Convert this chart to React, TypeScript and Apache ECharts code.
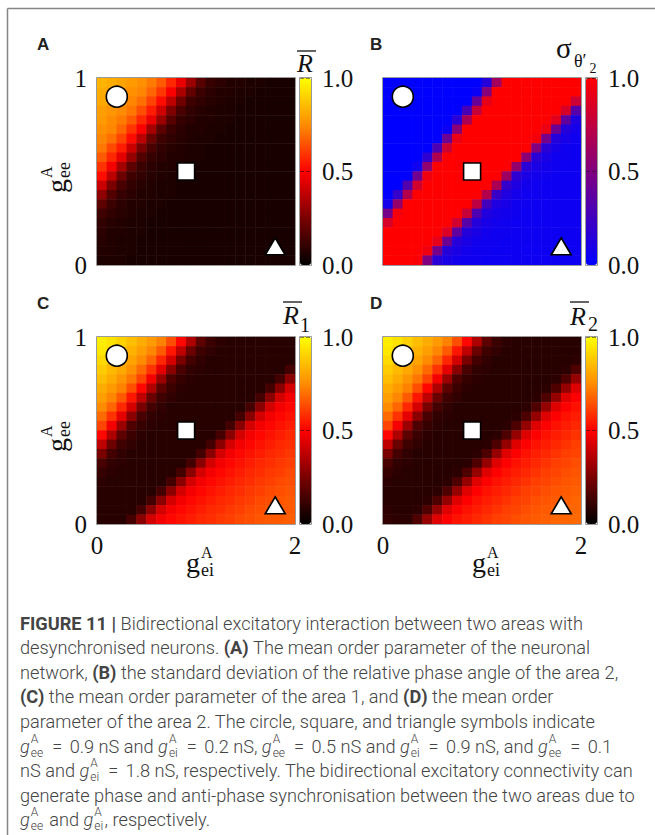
import React, { useEffect, useRef } from 'react';
import * as echarts from 'echarts';

// ---------------- data ----------------
// Each matrix: rows from g_ee = 1 (top) down to g_ee = 0 (bottom),
// columns from g_ei = 0 (left) to g_ei = 2 (right). Values in percent.
const N_GEI = 20;
const N_GEE = 20;
const GEI_MAX = 2;
const GEE_MAX = 1;

const meanR = [
  [84, 82, 80, 78, 76, 72, 66, 57, 46, 31, 18, 11, 9, 7, 7, 6, 6, 5, 5, 5],
  [82, 80, 78, 76, 74, 68, 60, 49, 34, 20, 12, 9, 7, 7, 6, 6, 5, 5, 5, 5],
  [81, 79, 77, 74, 70, 62, 52, 38, 23, 13, 10, 8, 7, 6, 6, 5, 5, 5, 5, 5],
  [79, 77, 75, 71, 64, 55, 41, 26, 15, 10, 8, 7, 6, 6, 5, 5, 5, 5, 5, 5],
  [78, 75, 72, 66, 57, 46, 31, 18, 11, 9, 7, 7, 6, 6, 5, 5, 5, 5, 5, 5],
  [76, 74, 68, 59, 49, 33, 19, 12, 9, 7, 7, 6, 6, 5, 5, 5, 5, 5, 5, 5],
  [74, 70, 62, 52, 37, 22, 13, 10, 8, 7, 6, 6, 5, 5, 5, 5, 5, 5, 5, 5],
  [71, 63, 55, 40, 25, 15, 10, 8, 7, 6, 6, 5, 5, 5, 5, 5, 5, 5, 5, 5],
  [66, 57, 45, 30, 17, 11, 9, 7, 7, 6, 6, 5, 5, 5, 5, 5, 5, 5, 5, 5],
  [59, 48, 33, 19, 12, 9, 7, 7, 6, 6, 5, 5, 5, 5, 5, 5, 5, 5, 5, 5],
  [52, 37, 22, 13, 10, 8, 7, 6, 6, 5, 5, 5, 5, 5, 5, 5, 5, 5, 5, 5],
  [40, 25, 15, 10, 8, 7, 6, 6, 5, 5, 5, 5, 5, 5, 5, 5, 5, 5, 5, 5],
  [29, 17, 11, 9, 7, 7, 6, 6, 5, 5, 5, 5, 5, 5, 5, 5, 5, 5, 5, 5],
  [19, 12, 9, 7, 7, 6, 6, 5, 5, 5, 5, 5, 5, 5, 5, 5, 5, 5, 5, 5],
  [13, 10, 8, 7, 6, 6, 5, 5, 5, 5, 5, 5, 5, 5, 5, 5, 5, 5, 5, 5],
  [10, 8, 7, 6, 6, 5, 5, 5, 5, 5, 5, 5, 5, 5, 5, 5, 5, 5, 5, 5],
  [9, 7, 7, 6, 6, 5, 5, 5, 5, 5, 5, 5, 5, 5, 5, 5, 5, 5, 5, 5],
  [8, 7, 6, 6, 5, 5, 5, 5, 5, 5, 5, 5, 5, 5, 5, 5, 5, 5, 5, 5],
  [7, 7, 6, 6, 5, 5, 5, 5, 5, 5, 5, 5, 5, 5, 5, 5, 5, 5, 5, 5],
  [6, 6, 6, 5, 5, 5, 5, 5, 5, 5, 5, 5, 5, 5, 5, 5, 5, 5, 5, 5],
];

const sigmaTheta2 = [
  [0, 0, 0, 0, 0, 0, 0, 0, 0, 0, 14, 64, 100, 100, 100, 100, 100, 100, 100, 100],
  [0, 0, 0, 0, 0, 0, 0, 0, 0, 3, 52, 100, 100, 100, 100, 100, 100, 100, 100, 100],
  [0, 0, 0, 0, 0, 0, 0, 0, 0, 40, 90, 100, 100, 100, 100, 100, 100, 100, 100, 80],
  [0, 0, 0, 0, 0, 0, 0, 0, 28, 78, 100, 100, 100, 100, 100, 100, 100, 100, 84, 34],
  [0, 0, 0, 0, 0, 0, 0, 16, 66, 100, 100, 100, 100, 100, 100, 100, 100, 88, 38, 12],
  [0, 0, 0, 0, 0, 0, 4, 54, 100, 100, 100, 100, 100, 100, 100, 100, 92, 42, 14, 8],
  [0, 0, 0, 0, 0, 0, 42, 92, 100, 100, 100, 100, 100, 100, 100, 96, 46, 14, 9, 6],
  [0, 0, 0, 0, 0, 30, 80, 100, 100, 100, 100, 100, 100, 100, 100, 50, 16, 9, 6, 5],
  [0, 0, 0, 0, 18, 68, 100, 100, 100, 100, 100, 100, 100, 100, 54, 16, 10, 6, 6, 5],
  [0, 0, 0, 6, 56, 100, 100, 100, 100, 100, 100, 100, 100, 58, 16, 10, 7, 6, 5, 5],
  [0, 0, 0, 44, 94, 100, 100, 100, 100, 100, 100, 100, 62, 18, 10, 7, 6, 5, 5, 5],
  [0, 0, 32, 82, 100, 100, 100, 100, 100, 100, 100, 66, 20, 11, 7, 6, 5, 5, 5, 5],
  [0, 20, 70, 100, 100, 100, 100, 100, 100, 100, 70, 22, 12, 8, 6, 6, 5, 5, 5, 5],
  [8, 58, 100, 100, 100, 100, 100, 100, 100, 74, 26, 12, 9, 6, 6, 5, 5, 5, 5, 5],
  [46, 96, 100, 100, 100, 100, 100, 100, 78, 30, 13, 9, 7, 6, 5, 5, 5, 5, 5, 5],
  [84, 100, 100, 100, 100, 100, 100, 82, 34, 14, 9, 7, 6, 5, 5, 5, 5, 5, 5, 5],
  [100, 100, 100, 100, 100, 100, 86, 38, 14, 10, 7, 6, 6, 5, 5, 5, 5, 5, 5, 5],
  [100, 100, 100, 100, 100, 90, 42, 15, 10, 7, 6, 6, 5, 5, 5, 5, 5, 5, 5, 5],
  [100, 100, 100, 100, 94, 46, 15, 10, 7, 6, 6, 5, 5, 5, 5, 5, 5, 5, 5, 5],
  [100, 100, 100, 98, 50, 16, 10, 7, 6, 6, 5, 5, 5, 5, 5, 5, 5, 5, 5, 5],
];

const meanR1 = [
  [96, 94, 90, 86, 82, 78, 73, 64, 51, 35, 19, 12, 9, 8, 8, 8, 8, 8, 8, 8],
  [95, 91, 87, 83, 79, 74, 66, 54, 38, 22, 13, 10, 8, 8, 8, 8, 8, 8, 8, 8],
  [92, 88, 84, 80, 75, 68, 57, 42, 25, 14, 10, 8, 8, 8, 8, 8, 8, 8, 8, 8],
  [89, 85, 81, 76, 69, 59, 45, 28, 15, 10, 9, 8, 8, 8, 8, 8, 8, 8, 8, 14],
  [86, 82, 77, 71, 62, 48, 31, 16, 11, 9, 8, 8, 8, 8, 8, 8, 8, 8, 14, 28],
  [82, 78, 73, 64, 51, 35, 19, 12, 9, 8, 8, 8, 8, 8, 8, 8, 8, 14, 28, 42],
  [79, 74, 66, 54, 38, 22, 13, 10, 8, 8, 8, 8, 8, 8, 8, 8, 14, 28, 42, 48],
  [75, 68, 57, 42, 25, 14, 10, 8, 8, 8, 8, 8, 8, 8, 8, 14, 28, 42, 48, 51],
  [69, 59, 45, 28, 15, 10, 9, 8, 8, 8, 8, 8, 8, 8, 14, 28, 42, 48, 51, 53],
  [62, 48, 31, 16, 11, 9, 8, 8, 8, 8, 8, 8, 8, 14, 28, 42, 48, 51, 53, 55],
  [51, 35, 19, 12, 9, 8, 8, 8, 8, 8, 8, 8, 14, 28, 42, 48, 51, 53, 55, 57],
  [38, 22, 13, 10, 8, 8, 8, 8, 8, 8, 8, 14, 28, 42, 48, 51, 53, 55, 57, 58],
  [25, 14, 10, 8, 8, 8, 8, 8, 8, 8, 14, 28, 42, 48, 51, 53, 55, 57, 58, 60],
  [15, 10, 9, 8, 8, 8, 8, 8, 8, 14, 28, 42, 48, 51, 53, 55, 57, 58, 60, 61],
  [11, 9, 8, 8, 8, 8, 8, 8, 14, 28, 42, 48, 51, 53, 55, 57, 58, 60, 61, 63],
  [9, 8, 8, 8, 8, 8, 8, 14, 28, 42, 48, 51, 53, 55, 57, 58, 60, 61, 63, 64],
  [8, 8, 8, 8, 8, 8, 14, 28, 42, 48, 51, 53, 55, 57, 58, 60, 61, 63, 64, 65],
  [8, 8, 8, 8, 8, 14, 28, 42, 48, 51, 53, 55, 57, 58, 60, 61, 63, 64, 65, 66],
  [8, 8, 8, 8, 14, 28, 42, 48, 51, 53, 55, 57, 58, 60, 61, 63, 64, 65, 66, 66],
  [8, 8, 8, 14, 28, 42, 48, 51, 53, 55, 57, 58, 60, 61, 63, 64, 65, 66, 66, 67],
];

const meanR2 = [
  [96, 94, 90, 86, 82, 78, 73, 64, 51, 35, 19, 12, 9, 8, 8, 8, 8, 8, 8, 8],
  [95, 91, 87, 83, 79, 74, 66, 54, 38, 22, 13, 10, 8, 8, 8, 8, 8, 8, 8, 8],
  [92, 88, 84, 80, 75, 68, 57, 42, 25, 14, 10, 8, 8, 8, 8, 8, 8, 8, 8, 9],
  [89, 85, 81, 76, 69, 59, 45, 28, 15, 10, 9, 8, 8, 8, 8, 8, 8, 8, 9, 16],
  [86, 82, 77, 71, 62, 48, 31, 16, 11, 9, 8, 8, 8, 8, 8, 8, 8, 9, 16, 30],
  [82, 78, 73, 64, 51, 35, 19, 12, 9, 8, 8, 8, 8, 8, 8, 8, 9, 16, 30, 44],
  [79, 74, 66, 54, 38, 22, 13, 10, 8, 8, 8, 8, 8, 8, 8, 9, 16, 30, 44, 50],
  [75, 68, 57, 42, 25, 14, 10, 8, 8, 8, 8, 8, 8, 8, 9, 16, 30, 44, 50, 53],
  [69, 59, 45, 28, 15, 10, 9, 8, 8, 8, 8, 8, 8, 9, 16, 30, 44, 50, 53, 55],
  [62, 48, 31, 16, 11, 9, 8, 8, 8, 8, 8, 8, 9, 16, 30, 44, 50, 53, 55, 57],
  [51, 35, 19, 12, 9, 8, 8, 8, 8, 8, 8, 9, 16, 30, 44, 50, 53, 55, 57, 59],
  [38, 22, 13, 10, 8, 8, 8, 8, 8, 8, 9, 16, 30, 44, 50, 53, 55, 57, 59, 61],
  [25, 14, 10, 8, 8, 8, 8, 8, 8, 9, 16, 30, 44, 50, 53, 55, 57, 59, 61, 62],
  [15, 10, 9, 8, 8, 8, 8, 8, 9, 16, 30, 44, 50, 53, 55, 57, 59, 61, 62, 64],
  [11, 9, 8, 8, 8, 8, 8, 9, 16, 30, 44, 50, 53, 55, 57, 59, 61, 62, 64, 65],
  [9, 8, 8, 8, 8, 8, 9, 16, 30, 44, 50, 53, 55, 57, 59, 61, 62, 64, 65, 66],
  [8, 8, 8, 8, 8, 9, 16, 30, 44, 50, 53, 55, 57, 59, 61, 62, 64, 65, 66, 67],
  [8, 8, 8, 8, 9, 16, 30, 44, 50, 53, 55, 57, 59, 61, 62, 64, 65, 66, 67, 68],
  [9, 8, 8, 9, 16, 30, 44, 50, 53, 55, 57, 59, 61, 62, 64, 65, 66, 67, 68, 68],
  [10, 9, 9, 16, 30, 44, 50, 53, 55, 57, 59, 61, 62, 64, 65, 66, 67, 68, 68, 69],
];

// marker symbols (circle, square, triangle): g_ei and g_ee in nS
const markerGei = [0.2, 0.9, 1.8];
const markerGee = [0.9, 0.5, 0.1];
const markerSymbols = ['circle', 'rect', 'triangle'];

// tick intervals (labels 0 / 2, 0 / 1 and 0.0 / 0.5 / 1.0)
const xTickInterval = 2;
const yTickInterval = 1;
const cbTickInterval = 0.5;

// colour scales
const HOT = ['#000000', '#7a0000', '#ff0000', '#ff8c00', '#ffff00'];
const BLUE_RED = ['#0000ff', '#80007f', '#ff0000'];

// caption
type Seg = string | { b: string } | { g: string };
const captionLines: Seg[][] = [
  [{ b: 'FIGURE 11 |' }, ' Bidirectional excitatory interaction between two areas with'],
  ['desynchronised neurons. ', { b: '(A)' }, ' The mean order parameter of the neuronal'],
  ['network, ', { b: '(B)' }, ' the standard deviation of the relative phase angle of the area 2,'],
  [{ b: '(C)' }, ' the mean order parameter of the area 1, and ', { b: '(D)' }, ' the mean order'],
  ['parameter of the area 2. The circle, square, and triangle symbols indicate'],
  [{ g: 'ee' }, ' = 0.9 nS and ', { g: 'ei' }, ' = 0.2 nS, ', { g: 'ee' }, ' = 0.5 nS and ', { g: 'ei' }, ' = 0.9 nS, and ', { g: 'ee' }, ' = 0.1'],
  ['nS and ', { g: 'ei' }, ' = 1.8 nS, respectively. The bidirectional excitatory connectivity can'],
  ['generate phase and anti-phase synchronisation between the two areas due to'],
  [{ g: 'ee' }, ' and ', { g: 'ei' }, ', respectively.'],
];

// ---------------- layout ----------------
const SERIF = "'Liberation Serif', 'DejaVu Serif', serif";
const SANS = "'Liberation Sans', Arial, sans-serif";
const CAP_FAMILY = "Roboto, 'Liberation Sans', sans-serif";
const CAP_SIZE = 18.2;
const CAP_SMALL = 12;
const EQ_PAD = 3;
const CAP_LEFT = 20;
const CAP_TOP = 623;
const CAP_STEP = 24.6;
const CAP_COLOR = '#444';
const PW = 198;
const PH = 187;
const CB_GAP = 5;
const CB_W = 11;
const INK = '#111';

const panels = [
  { id: 'A', left: 97, top: 78, labelX: 37, data: meanR, colors: HOT, yLab: true, xLab: false },
  { id: 'B', left: 383, top: 78, labelX: 370, data: sigmaTheta2, colors: BLUE_RED, yLab: false, xLab: false },
  { id: 'C', left: 97, top: 337, labelX: 37, data: meanR1, colors: HOT, yLab: true, xLab: true },
  { id: 'D', left: 383, top: 337, labelX: 370, data: meanR2, colors: HOT, yLab: false, xLab: true },
];

const cats = (n: number) => Array.from({ length: n }, (_, i) => String(i));

function toCells(rows: number[][]) {
  const out: number[][] = [];
  rows.forEach((row, r) =>
    row.forEach((v, c) => out.push([c, N_GEE - 1 - r, v / 100]))
  );
  return out;
}

function txt(x: number, y: number, text: string, size: number, o: any = {}) {
  return {
    type: 'text',
    x,
    y,
    z: 60,
    silent: true,
    style: {
      text,
      fontSize: size,
      fontFamily: o.family || SERIF,
      fontStyle: o.italic ? 'italic' : 'normal',
      fontWeight: o.weight || 'normal',
      fill: o.color || INK,
      align: o.align || 'left',
      verticalAlign: o.va || 'middle',
    },
  };
}

function hline(x1: number, x2: number, y: number, w = 1.3, color = INK) {
  return {
    type: 'line',
    z: 60,
    silent: true,
    shape: { x1, y1: y, x2, y2: y },
    style: { stroke: color, lineWidth: w },
  };
}

function buildCaption() {
  const ctx = document.createElement('canvas').getContext('2d') as CanvasRenderingContext2D;
  const meas = (t: string, size: number, weight: any, style: string) => {
    ctx.font = `${style} ${weight} ${size}px ${CAP_FAMILY}`;
    return ctx.measureText(t).width;
  };
  const els: any[] = [];
  const put = (x: number, y: number, t: string, size: number, weight: any, style: string) => {
    if (!t) return;
    els.push({
      type: 'text',
      x,
      y,
      z: 60,
      silent: true,
      style: {
        text: t,
        fontSize: size,
        fontFamily: CAP_FAMILY,
        fontWeight: weight,
        fontStyle: style,
        fill: CAP_COLOR,
        align: 'left',
        verticalAlign: 'middle',
      },
    });
  };
  // plain run of text, placed without relying on leading spaces
  const run = (x: number, y: number, s: string, w: any) => {
    const lead = s.length - s.replace(/^\s+/, '').length;
    const x0 = x + (lead ? meas(s.slice(0, lead), CAP_SIZE, w, 'normal') : 0);
    put(x0, y, s.trim(), CAP_SIZE, w, 'normal');
    return x + meas(s, CAP_SIZE, w, 'normal');
  };
  captionLines.forEach((segs, i) => {
    const y = CAP_TOP + i * CAP_STEP;
    let x = CAP_LEFT;
    segs.forEach((seg) => {
      if (typeof seg === 'string') {
        const parts = seg.split('=');
        parts.forEach((part, k) => {
          if (k > 0) {
            x += EQ_PAD;
            put(x, y, '=', CAP_SIZE, 300, 'normal');
            x += meas('=', CAP_SIZE, 300, 'normal') + EQ_PAD;
          }
          x = run(x, y, part, 300);
        });
      } else if ('b' in seg) {
        x = run(x, y, seg.b, 700);
      } else {
        put(x, y, 'g', CAP_SIZE, 300, 'italic');
        x += meas('g', CAP_SIZE, 300, 'italic') + 1;
        put(x, y - 7.5, 'A', CAP_SMALL, 300, 'normal');
        put(x, y + 6.5, seg.g, CAP_SMALL, 300, 'normal');
        x += Math.max(meas('A', CAP_SMALL, 300, 'normal'), meas(seg.g, CAP_SMALL, 300, 'normal')) + 1.5;
      }
    });
  });
  return els;
}

function buildOption() {
  const grid: any[] = [];
  const xAxis: any[] = [];
  const yAxis: any[] = [];
  const series: any[] = [];
  const visualMap: any[] = [];
  const graphic: any[] = [];
  const tickFont = { fontSize: 25, fontFamily: SERIF, color: INK };

  panels.forEach((p, i) => {
    const cbLeft = p.left + PW + CB_GAP;
    grid.push({ left: p.left, top: p.top, width: PW, height: PH });
    grid.push({ left: cbLeft, top: p.top, width: CB_W, height: PH });
    const gh = 2 * i;
    const gc = 2 * i + 1;
    xAxis.push(
      { gridIndex: gh, type: 'category', data: cats(N_GEI), show: false, position: 'top' },
      {
        gridIndex: gh, type: 'value', min: 0, max: GEI_MAX, interval: xTickInterval, position: 'bottom',
        axisLine: { show: false }, axisTick: { show: false }, splitLine: { show: false },
        axisLabel: { show: p.xLab, margin: 9, showMinLabel: true, showMaxLabel: true, ...tickFont },
      },
      { gridIndex: gc, type: 'value', min: 0, max: 1, show: false }
    );
    yAxis.push(
      { gridIndex: gh, type: 'category', data: cats(N_GEE), show: false, position: 'right' },
      {
        gridIndex: gh, type: 'value', min: 0, max: GEE_MAX, interval: yTickInterval, position: 'left',
        axisLine: { show: false }, axisTick: { show: false }, splitLine: { show: false },
        axisLabel: { show: p.yLab, margin: 10, showMinLabel: true, showMaxLabel: true, ...tickFont },
      },
      {
        gridIndex: gc, type: 'value', min: 0, max: 1, interval: cbTickInterval, position: 'right', z: 6,
        axisLine: { show: false }, axisTick: { show: false },
        splitLine: { show: true, lineStyle: { type: 'dashed', color: 'rgba(0,0,0,0.45)', width: 1 } },
        axisLabel: { margin: 11, formatter: (v: number) => v.toFixed(1), showMinLabel: true, showMaxLabel: true, ...tickFont },
      }
    );
    series.push({
      type: 'heatmap',
      xAxisIndex: 3 * i,
      yAxisIndex: 3 * i,
      data: toCells(p.data),
      silent: true,
      emphasis: { disabled: true },
      itemStyle: { borderWidth: 0 },
      progressive: 0,
    });
    series.push({
      type: 'scatter',
      xAxisIndex: 3 * i + 1,
      yAxisIndex: 3 * i + 1,
      silent: true,
      z: 5,
      data: markerGei.map((gx, k) => ({
        value: [gx, markerGee[k]],
        symbol: markerSymbols[k],
        symbolSize: k === 0 ? 21 : k === 1 ? 17 : [20, 17],
      })),
      itemStyle: { color: '#fff', borderColor: '#000', borderWidth: 1.6, opacity: 1 },
    });
    visualMap.push({
      type: 'continuous',
      seriesIndex: 2 * i,
      min: 0,
      max: 1,
      inRange: { color: p.colors },
      left: cbLeft,
      top: p.top,
      orient: 'vertical',
      itemWidth: CB_W,
      itemHeight: PH,
      padding: 0,
      calculable: false,
      hoverLink: false,
      show: true,
    });
    // frames round the maps and the colour bars
    graphic.push({
      type: 'rect', z: 55, silent: true,
      shape: { x: p.left - 0.5, y: p.top - 0.5, width: PW + 1, height: PH + 1 },
      style: { fill: 'none', stroke: '#9a9a9a', lineWidth: 1 },
    });
    graphic.push({
      type: 'rect', z: 55, silent: true,
      shape: { x: cbLeft - 0.5, y: p.top - 0.5, width: CB_W + 1, height: PH + 1 },
      style: { fill: 'none', stroke: '#9a9a9a', lineWidth: 1 },
    });
    // panel letter
    graphic.push(txt(p.labelX, p.top - 34, p.id, 17, { family: SANS, weight: 'bold', color: '#222' }));
  });

  // outer frame of the figure
  graphic.push(hline(7.5, 660, 8.5, 1.5, '#858585'));
  graphic.push({
    type: 'line', z: 60, silent: true,
    shape: { x1: 7.5, y1: 8.5, x2: 7.5, y2: 840 },
    style: { stroke: '#858585', lineWidth: 1.5 },
  });

  // colour-bar titles
  graphic.push(txt(305, 63.5, 'R', 26, { italic: true, align: 'center' }), hline(297, 316, 51));
  graphic.push(
    txt(556, 48, 'σ', 29),
    txt(574, 61, 'θ′', 18),
    txt(589.5, 68, '2', 14)
  );
  graphic.push(
    txt(291, 315.5, 'R', 26, { italic: true, align: 'center' }),
    hline(283, 302, 302),
    txt(305, 325, '1', 20, { align: 'center' })
  );
  graphic.push(
    txt(578, 316.5, 'R', 26, { italic: true, align: 'center' }),
    hline(570, 589, 302),
    txt(593, 324, '2', 20, { align: 'center' })
  );

  // axis names g_ee^A (rotated) and g_ei^A
  const yName = (cx: number, cy: number) => ({
    type: 'group',
    x: cx,
    y: cy,
    rotation: Math.PI / 2,
    silent: true,
    children: [
      txt(-17, 0, 'g', 28),
      txt(-2, -10, 'A', 16),
      txt(-2, 8, 'ee', 18),
    ],
  });
  graphic.push(yName(56, 176), yName(56, 435));
  const xName = (x: number, y: number) => [
    txt(x, y, 'g', 28),
    txt(x + 15, y - 10, 'A', 16),
    txt(x + 15, y + 8, 'ei', 18),
  ];
  graphic.push(...xName(186, 562), ...xName(472, 562));

  graphic.push(...buildCaption());

  return {
    animation: false,
    backgroundColor: '#ffffff',
    grid,
    xAxis,
    yAxis,
    visualMap,
    series,
    graphic: { elements: graphic },
  };
}

export default function App() {
  const ref = useRef<HTMLDivElement>(null);
  useEffect(() => {
    if (!ref.current) return;
    const chart = echarts.init(ref.current, null, { renderer: 'svg' });
    chart.setOption(buildOption() as any);
    return () => chart.dispose();
  }, []);
  return (
    <div
      ref={ref}
      style={{ position: 'absolute', left: 0, top: 0, width: 655, height: 835, background: '#fff' }}
    />
  );
}
